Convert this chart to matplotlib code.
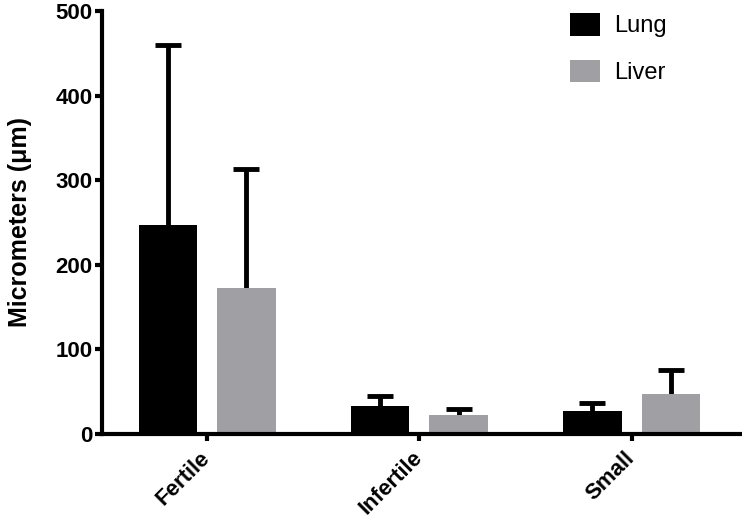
import numpy as np
import matplotlib.pyplot as plt

plt.rcParams['font.family'] = ['Liberation Sans', 'DejaVu Sans']

categories = ["Fertile", "Infertile", "Small"]
lung_mean = [247, 33, 27]
lung_sd = [213, 12, 10]
liver_mean = [172, 23, 47]
liver_sd = [141, 7, 29]

lung_color = "#000000"
liver_color = "#a0a0a4"

fig = plt.figure(figsize=(7.42, 5.19), dpi=100)
ax = fig.add_axes([0.1375, 0.1638, 0.8625, 0.815])

x = np.arange(len(categories))
w = 0.275
off = 0.185

ax.bar(x - off, lung_mean, w, color=lung_color, label="Lung", zorder=3)
ax.bar(x + off, liver_mean, w, color=liver_color, label="Liver", zorder=3)

# symmetric bars drawn behind the columns, so only the upper half shows
ax.errorbar(x - off, lung_mean, yerr=lung_sd, fmt='none',
            ecolor='black', elinewidth=3.5, capsize=9.5, capthick=3.5, zorder=2)
ax.errorbar(x + off, liver_mean, yerr=liver_sd, fmt='none',
            ecolor='black', elinewidth=3.5, capsize=9.5, capthick=3.5, zorder=2)

ax.set_xlim(-0.495, 2.52)
ax.set_ylim(0, 500)
ax.set_yticks([0, 100, 200, 300, 400, 500])
ax.set_xticks(x)
ax.set_xticklabels(categories, rotation=45, ha='right', va='center',
                   rotation_mode='anchor', fontsize=16, fontweight='bold')
for lab in ax.get_yticklabels():
    lab.set_fontsize(16)
    lab.set_fontweight('bold')

for s in ['top', 'right']:
    ax.spines[s].set_visible(False)
for s in ['left', 'bottom']:
    ax.spines[s].set_linewidth(3)
    ax.spines[s].set_zorder(4)
ax.tick_params(axis='both', width=3, length=5, direction='out')
ax.tick_params(axis='y', pad=2)
ax.tick_params(axis='x', pad=10)

ax.set_ylabel("Micrometers (\u03bcm)", fontsize=18, fontweight='bold', labelpad=17)

leg = ax.legend(loc='upper left', bbox_to_anchor=(570 / 742, 1 - 13 / 519),
                bbox_transform=fig.transFigure, frameon=False, fontsize=17,
                borderpad=0, borderaxespad=0, handlelength=1.27, handleheight=1.1,
                handletextpad=0.6, labelspacing=0.95)

fig.savefig("out.png", dpi=100)
